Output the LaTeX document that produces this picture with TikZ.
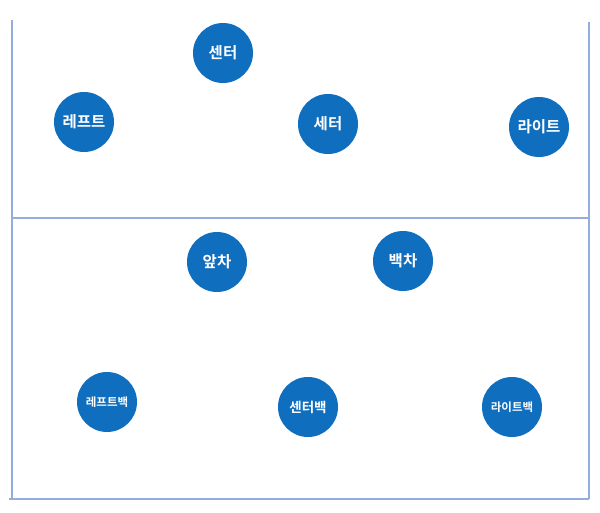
\documentclass[tikz,border=0pt]{standalone}
\usepackage{fontspec}
\newfontfamily\krfont{Noto Sans CJK KR}[BoldFont={* Bold}]
\definecolor{courtline}{RGB}{150,172,218}
\definecolor{posblue}{RGB}{16,110,190}
\begin{document}
\begin{tikzpicture}[x=1pt,y=-1pt,
  posnode/.style={circle,fill=posblue,minimum size=60pt,inner sep=0pt,text=white,font=\krfont\bfseries\fontsize{15.5}{17}\selectfont},
  possmall/.style={posnode,font=\krfont\bfseries\fontsize{11.5}{13}\selectfont},
  court/.style={draw=courtline,line width=1.3pt}]
\useasboundingbox[fill=white] (0,0) rectangle (600,512);
% court lines
\coordinate (tl) at (12,20);
\coordinate (tr) at (589,22);
\coordinate (ml) at (12,218);
\coordinate (mr) at (589,218);
\coordinate (bl) at (9,499);
\coordinate (blc) at (12,499);
\coordinate (br) at (589,499);
\draw[court] (tl) -- (blc);
\draw[court] (tr) -- (br);
\draw[court] (ml) -- (mr);
\draw[court] (bl) -- (br);
% positions
\node[posnode] (center) at (223,53) {센터};
\node[posnode] (left) at (84,122) {레프트};
\node[posnode] (setter) at (328,124) {세터};
\node[posnode] (right) at (539,127) {라이트};
\node[posnode] (apcha) at (217,262) {앞차};
\node[posnode] (baekcha) at (403,261) {백차};
\node[possmall] (leftback) at (107,402) {레프트백};
\node[possmall,font=\krfont\bfseries\fontsize{13.5}{15}\selectfont] (centerback) at (308,407) {센터백};
\node[possmall] (rightback) at (512,407) {라이트백};
\end{tikzpicture}
\end{document}
